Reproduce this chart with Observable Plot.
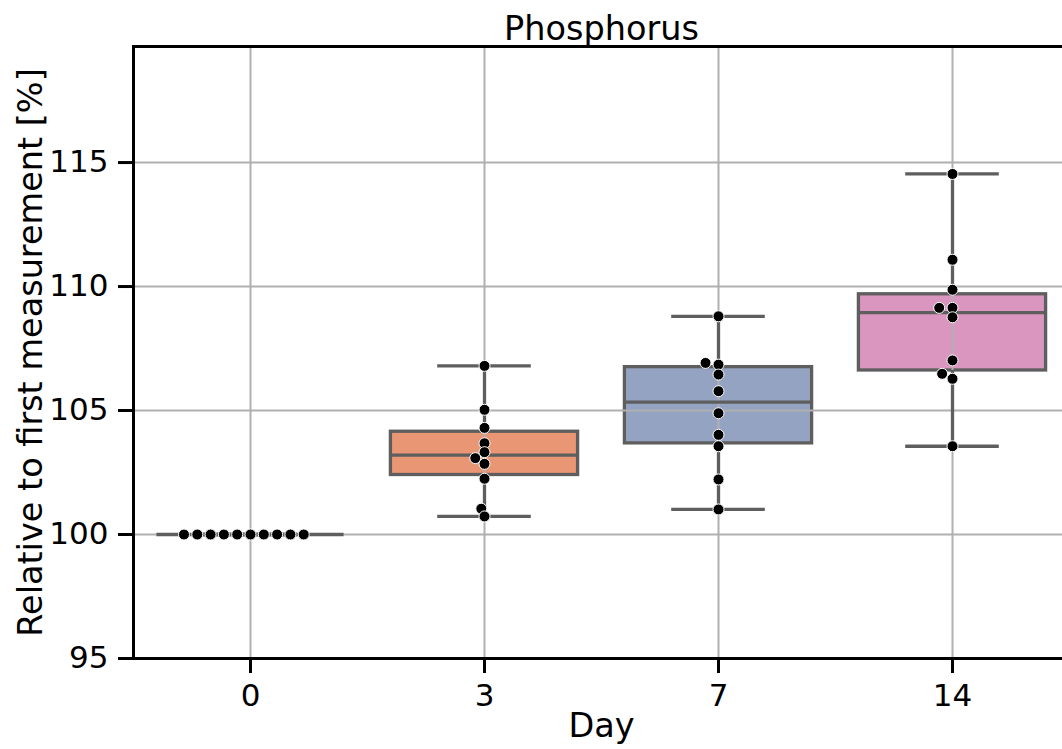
<!DOCTYPE html>
<html><head><meta charset="utf-8">
<script src="https://cdn.jsdelivr.net/npm/d3@7"></script>
<script src="https://cdn.jsdelivr.net/npm/@observablehq/plot@0.6"></script>
<style>html,body{margin:0;padding:0;background:#fff;overflow:hidden}</style>
</head><body><div id="chart"></div>
<script>
// ---- data ----
const days = ["0", "3", "7", "14"];
const day0 = [100, 100, 100, 100, 100, 100, 100, 100, 100, 100];
const day3 = [106.8, 105.03, 104.30, 103.68, 103.32, 103.08, 102.85, 102.25, 101.04, 100.73];
const day7 = [108.80, 106.92, 106.85, 106.45, 105.78, 104.89, 104.02, 103.56, 102.22, 101.01];
const day14 = [114.54, 111.08, 109.87, 109.14, 109.14, 108.76, 107.02, 106.48, 106.28, 103.56];
const boxColors = ["#72b7a1", "#e99675", "#95a3c3", "#db96c0"];
const yTicks = [95, 100, 105, 110, 115];
const titleText = "Phosphorus";
const xLabel = "Day";
const yLabel = "Relative to first measurement [%]";

// ---- layout ----
const W = 1062, H = 749, mL = 133, mR = -7, mT = 46, mB = 91;
const yDomain = [95, 119.68];
const step = (W - mR - mL) / days.length;
const ypx = d3.scaleLinear(yDomain, [H - mB, mT]);
const groups = [day0, day3, day7, day14];

// beeswarm (seaborn-like)
function swarm(vals, D, k) {
  const order = d3.range(vals.length).sort((a, b) => vals[a] - vals[b]);
  const placed = [], off = new Array(vals.length);
  for (const i of order) {
    const y = ypx(vals[i]);
    const nbrs = placed.filter(p => Math.abs(p.y - y) * k < D);
    const cands = [0]; let leftFirst = true;
    for (const p of nbrs) {
      const dy = (y - p.y) * k;
      const dx = Math.sqrt(Math.max(D * D - dy * dy, 0)) * 1.05;
      const c = [p.x - dx, p.x + dx];
      if (!leftFirst) c.reverse();
      cands.push(...c); leftFirst = !leftFirst;
    }
    const sorted = cands.map((c, j) => [c, j]).sort((a, b) => Math.abs(a[0]) - Math.abs(b[0]) || a[1] - b[1]).map(a => a[0]);
    const x = sorted.find(c => nbrs.every(p => { const dy = (y - p.y) * k; return (c - p.x) ** 2 + dy * dy >= D * D - 1e-6; }));
    placed.push({x, y}); off[i] = x;
  }
  return off;
}

const stats = groups.map((g, i) => {
  const s = g.slice().sort(d3.ascending);
  return {i, color: boxColors[i], q1: d3.quantile(s, 0.25), med: d3.quantile(s, 0.5), q3: d3.quantile(s, 0.75), min: d3.min(s), max: d3.max(s)};
});
const points = groups.flatMap((g, i) => {
  const off = swarm(g, 12.67, 1.6);
  return g.map((v, j) => ({x: i + off[j] / step, y: v}));
});

const gray = "#5e5e5e";
const lw = 3.3;
const chart = Plot.plot({
  width: W, height: H,
  marginLeft: mL, marginRight: mR, marginTop: mT, marginBottom: mB,
  style: {fontFamily: "DejaVu Sans", fontSize: "31px", background: "white", overflow: "hidden", color: "#000"},
  x: {domain: [-0.5, 3.5]},
  y: {domain: yDomain},
  marks: [
    Plot.rect(stats.filter(d => d.q3 > d.q1), {x1: d => d.i - 0.4, x2: d => d.i + 0.4, y1: "q1", y2: "q3", fill: "color", stroke: gray, strokeWidth: lw}),
    Plot.gridY(yTicks, {stroke: "#b0b0b0", strokeOpacity: 1, strokeWidth: 2}),
    Plot.gridX([0, 1, 2, 3], {stroke: "#b0b0b0", strokeOpacity: 1, strokeWidth: 2}),
    Plot.ruleX(stats, {x: "i", y1: "q3", y2: "max", stroke: gray, strokeWidth: lw}),
    Plot.ruleX(stats, {x: "i", y1: "min", y2: "q1", stroke: gray, strokeWidth: lw}),
    Plot.ruleY(stats, {y: "max", x1: d => d.i - 0.2, x2: d => d.i + 0.2, stroke: gray, strokeWidth: lw}),
    Plot.ruleY(stats, {y: "min", x1: d => d.i - 0.2, x2: d => d.i + 0.2, stroke: gray, strokeWidth: lw}),
    Plot.ruleY(stats, {y: "med", x1: d => d.i - 0.4, x2: d => d.i + 0.4, stroke: gray, strokeWidth: lw}),
    Plot.dot(points, {x: "x", y: "y", r: 5.5, fill: "#000", stroke: "#fff", strokeWidth: 1}),
    Plot.axisY({ticks: yTicks, tickSize: 15, tickPadding: 10, strokeWidth: 3, fontSize: 31, label: null}),
    Plot.axisX({ticks: [0, 1, 2, 3], tickFormat: i => days[i], tickSize: 15, tickPadding: 10, strokeWidth: 3, fontSize: 31, label: null}),
    Plot.frame({stroke: "#000", strokeWidth: 3}),
    Plot.text([titleText], {frameAnchor: "top", lineAnchor: "bottom", dy: -7, fontSize: 33.5, fill: "#000"}),
    Plot.text([xLabel], {frameAnchor: "bottom", lineAnchor: "bottom", dy: 78, fontSize: 33.5, fill: "#000"}),
    Plot.text([yLabel], {frameAnchor: "left", rotate: -90, textAnchor: "middle", lineAnchor: "middle", dx: -102, fontSize: 33.5, fill: "#000"})
  ]
});
document.getElementById("chart").append(chart);
</script>
</body></html>
